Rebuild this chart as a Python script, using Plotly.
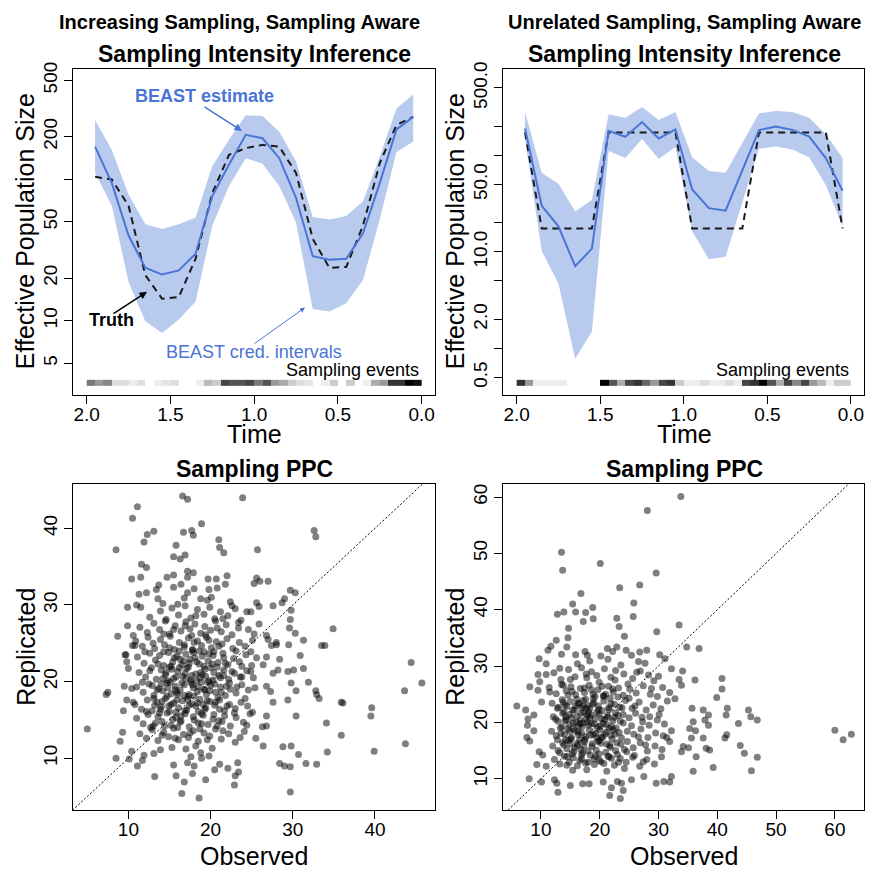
import math
import plotly.graph_objects as go

W, H = 880, 871
FONT = "Liberation Sans, Arial, sans-serif"
BLUE = "#4a74d6"
FILL = "#b8caed"

def px(x):
    return x / W

def py(y):
    return 1 - y / H

# ---------------- data ----------------
times = [1.95, 1.85, 1.75, 1.65, 1.55, 1.45, 1.35, 1.25, 1.15, 1.05,
         0.95, 0.85, 0.75, 0.65, 0.55, 0.45, 0.35, 0.25, 0.15, 0.05]

est_a = [170, 94, 40, 23.7, 21.2, 22.7, 29.7, 76, 127, 206, 195, 141, 74, 28.6, 27, 27.4, 41.5, 94, 225, 276]
hi_a = [262, 161, 78, 48, 44.5, 48, 53.7, 124, 190, 284, 280, 217, 134, 54, 52, 55, 70, 145, 316, 398]
lo_a = [111, 65, 18.8, 9.9, 8.2, 10.2, 13.6, 47, 89.5, 141, 129, 89.5, 49.5, 12.1, 11.6, 13.3, 19.4, 52, 156, 185]
truth_a = [104, 99.6, 65, 21, 14.3, 14.7, 27.4, 80, 149, 166, 175, 170, 111, 37.9, 23.6, 24, 47, 130, 242, 276]

est_b = [190, 30, 18.4, 7.1, 10.8, 180, 156, 222, 150, 186, 44.4, 28.4, 26.7, 70, 183, 199, 184, 157, 94, 43]
hi_b = [282, 66, 51, 26.2, 34.6, 267, 246, 317, 233, 282, 96, 69, 66, 135, 273, 288, 282, 246, 166, 94]
lo_b = [148, 10.2, 4.7, 0.78, 1.49, 111, 94, 148, 92, 122, 16.4, 8.4, 8.9, 32, 117, 124, 115, 96, 49, 18.4]
truth_b = [173, 17.5, 17.5, 17.5, 17.5, 173, 173, 173, 173, 173, 17.5, 17.5, 17.5, 17.5, 173, 173, 173, 173, 173, 17.5]

# sampling-event intensity per 0.05 time bin, read left (t=2.0) to right (t=0.0)
events_a = [0.53, 0.40, 0.47, 0.13, 0.13, 0.07, 0.13, 0.0, 0.07, 0.10,
            0.13, 0.0, 0.0, 0.07, 0.27, 0.20, 0.73, 0.67, 0.67, 0.73,
            0.53, 0.67, 0.40, 0.33, 0.20, 0.13, 0.10, 0.0, 0.07, 0.20,
            0.0, 0.20, 0.0, 0.07, 0.33, 0.40, 0.80, 0.80, 1.0, 0.93]
events_b = [0.80, 0.40, 0.07, 0.07, 0.07, 0.07, 0.0, 0.0, 0.0, 0.0,
            1.0, 0.67, 0.33, 0.73, 0.80, 0.60, 0.40, 0.73, 0.80, 0.20,
            0.07, 0.07, 0.13, 0.07, 0.07, 0.13, 0.07, 0.73, 0.80, 1.0,
            0.67, 0.33, 0.73, 0.47, 0.73, 0.40, 0.27, 0.07, 0.20, 0.20]
bin_width = 0.05

ppc_a = [
    (16.6,44.2),(17.2,43.8),(23.9,44.0),(11.1,42.8),(10.5,41.3),(18.9,40.6),(13.1,39.6),(12.3,39.2),(16.7,39.5),(17.7,39.7),
    (17.9,39.1),(32.6,39.7),(32.8,38.9),(21.0,38.5),(21.1,37.5),(21.6,36.8),(8.5,37.2),(11.9,38.2),(15.8,37.8),(25.7,37.2),
    (16.3,36.0),(15.5,36.3),(16.9,36.5),(11.6,35.3),(12.2,34.9),(17.2,34.4),(17.9,34.2),(17.2,33.6),(22.0,33.8),(10.4,33.4),
    (11.5,33.6),(14.7,33.6),(15.5,33.9),(19.7,33.4),(20.7,33.4),(25.6,33.5),(27.0,33.1),(25.3,32.8),(26.0,33.1),(13.7,32.6),
    (13.4,32.0),(15.5,32.3),(16.4,32.7),(18.0,32.1),(19.8,32.0),(20.8,32.2),(21.8,32.7),(29.7,31.9),(30.3,31.6),(9.9,29.7),
    (11.0,30.0),(11.5,29.7),(12.2,31.6),(11.3,31.4),(13.6,30.8),(16.8,30.9),(18.8,30.8),(22.4,30.4),(29.0,30.8),(28.7,30.3),
    (29.8,29.3),(24.4,29.1),(24.9,29.1),(25.6,30.3),(25.9,29.8),(27.6,29.9),(29.7,28.1),(29.6,27.0),(30.3,26.3),(34.9,26.9),
    (25.9,27.5),(26.8,26.0),(27.0,25.5),(27.4,24.7),(28.0,25.1),(29.5,24.8),(31.3,25.4),(33.5,24.7),(33.9,24.7),(9.9,27.3),
    (8.7,25.9),(10.6,26.0),(10.5,24.7),(9.6,23.5),(9.8,22.6),
    (44.4,22.5),(45.7,19.8),(43.6,18.8),(43.7,11.9),(39.6,16.6),(39.5,15.5),(39.9,10.9),(35.9,17.3),(36.1,17.2),(35.9,13.0),
    (34.1,14.6),(34.2,10.8),(32.8,18.8),(32.9,18.3),(33.2,17.8),(31.9,19.9),(31.3,21.7),(29.8,19.8),(30.4,18.8),(30.1,21.5),
    (30.9,23.4),(28.4,22.9),(29.4,21.3),(29.4,17.6),(30.4,15.5),(28.2,21.5),(27.6,21.1),(28.0,24.8),(26.8,23.2),(26.4,22.2),
    (27.3,18.7),(26.8,19.4),(27.6,17.3),(26.8,15.5),(28.4,9.3),(29.0,9.0),(29.7,8.9),(29.8,11.6),(28.8,11.5),(30.7,10.5),
    (31.6,9.3),(32.9,9.2),(29.7,5.6),(26.3,14.1),(26.8,14.2),(26.4,11.6),(25.5,12.6),(24.4,14.3),(23.6,12.7),(23.3,9.4),
    (23.0,7.7),(22.9,6.5),(23.4,8.2),(22.1,8.7),(21.1,9.2),(20.5,8.5),(19.8,10.3),(19.4,7.2),(18.6,4.8),(16.8,6.9),
    (16.5,5.4),(17.8,8.0),(18.0,9.0),(18.9,10.0),(18.8,10.7),(17.6,10.2),(17.2,9.4),(15.5,9.1),(15.8,7.7),(13.2,7.6),
    (13.1,10.6),(11.9,10.4),(11.7,9.7),(11.1,9.0),(10.4,10.9),(10.1,9.9),(8.5,10.0),(5.0,13.8),(7.3,18.3),(7.5,18.6),
    (9.0,12.2),(9.3,13.4),(9.4,16.2),(10.6,17.3),(10.4,19.1),(9.5,19.4),(9.8,17.6),(10.0,21.7),(9.7,23.5),(10.8,24.7),
    (12.6,28.4),(13.9,29.2),(14.6,28.1),(15.3,29.6),(16.1,28.7),(16.9,29.9),(17.6,28.3),(18.4,29.4),(19.2,28.8),(19.9,29.7),
    (20.5,28.2),(21.2,29.1),(22.1,28.6),(23.0,29.5),(23.7,28.0),(14.2,30.2),(19.6,30.6),(20.1,31.0),
    (11.4,27.1),(12.3,26.4),(13.1,27.6),(13.8,26.8),(14.5,27.9),(15.0,26.2),(15.7,27.3),(16.4,26.6),(17.0,27.8),(17.5,26.9),
    (18.1,27.5),(18.8,26.3),(19.3,27.2),(20.0,26.7),(20.6,27.9),(21.3,26.5),(21.9,27.4),(22.6,26.1),(23.4,27.0),(24.6,26.8),(25.3,26.2),
    (10.9,25.3),(11.7,24.6),(12.4,25.8),(13.2,24.3),(13.9,25.5),(14.4,24.8),(15.1,25.9),(15.6,24.2),(16.2,25.1),(16.8,24.5),
    (17.3,25.7),(17.8,24.1),(18.4,25.3),(18.9,24.7),(19.5,25.8),(20.1,24.4),(20.7,25.2),(21.4,24.9),(22.0,25.6),(22.7,24.3),
    (23.5,25.1),(24.2,24.6),(25.1,25.4),(24.9,23.9),
    (11.1,23.2),(11.9,22.4),(12.6,23.7),(13.3,22.8),(13.8,23.4),(14.3,22.1),(14.9,23.8),(15.4,22.6),(15.9,23.3),(16.5,22.2),
    (17.0,23.6),(17.5,22.9),(18.1,23.1),(18.6,22.3),(19.2,23.9),(19.7,22.7),(20.3,23.4),(20.9,22.5),(21.5,23.7),(22.1,22.2),
    (22.8,23.0),(23.5,22.6),(24.3,23.5),(25.0,22.1),(15.2,22.0),(17.9,23.8),
    (11.3,21.2),(12.1,20.6),(12.8,21.8),(13.4,20.3),(14.0,21.5),(14.5,20.9),(15.0,21.9),(15.5,20.4),(16.0,21.3),(16.6,20.7),
    (17.1,21.7),(17.6,20.2),(18.2,21.0),(18.7,20.5),(19.3,21.6),(19.8,20.1),(20.4,21.2),(21.0,20.8),(21.6,21.5),(22.2,20.3),
    (22.9,21.1),(23.6,20.6),(24.4,21.4),(25.2,20.5),(14.8,20.1),(16.9,21.1),(19.0,20.9),(20.0,21.8),
    (11.0,19.3),(11.8,18.6),(12.5,19.7),(13.1,18.2),(13.7,19.1),(14.2,18.8),(14.7,19.8),(15.2,18.4),(15.7,19.4),(16.3,18.9),
    (16.8,19.6),(17.3,18.1),(17.9,19.2),(18.4,18.7),(18.9,19.9),(19.5,18.3),(20.0,19.5),(20.6,18.6),(21.2,19.3),(21.8,18.2),
    (22.4,19.0),(23.1,18.5),(23.8,19.6),(24.6,18.9),(25.4,19.2),(16.0,18.3),(19.2,19.0),(17.6,19.9),
    (10.8,17.0),(11.6,16.4),(12.3,17.6),(12.9,16.2),(13.5,17.3),(14.0,16.7),(14.5,17.8),(15.0,16.1),(15.5,17.2),(16.1,16.6),
    (16.6,17.5),(17.1,16.3),(17.7,17.1),(18.2,16.8),(18.7,17.7),(19.3,16.4),(19.9,17.4),(20.5,16.9),(21.1,17.6),(21.7,16.2),
    (22.3,17.0),(23.0,16.5),(23.7,17.3),(24.5,16.8),(25.1,16.0),(13.2,16.9),(15.8,16.0),(18.5,16.1),
    (11.0,15.2),(11.8,14.5),(12.4,15.7),(13.0,14.2),(13.6,15.4),(14.1,14.8),(14.7,15.9),(15.2,14.3),(15.8,15.3),(16.3,14.7),
    (16.9,15.8),(17.4,14.1),(18.0,15.0),(18.5,14.6),(19.1,15.6),(19.7,14.4),(20.3,15.1),(21.0,14.9),(21.7,15.5),(22.4,14.2),
    (23.1,15.3),(24.0,14.7),(24.8,15.8),(12.7,14.0),
    (11.4,13.2),(12.2,12.6),(12.9,13.7),(13.6,12.3),(14.3,13.4),(14.9,12.8),(15.5,13.9),(16.1,12.4),(16.7,13.1),(17.3,12.7),
    (17.9,13.6),(18.5,12.2),(19.2,13.3),(19.9,12.9),(20.6,13.8),(21.3,12.5),(22.2,13.2),(23.0,12.1),(24.1,13.5),(15.3,11.4),
    (17.0,11.2),(18.2,11.6),(20.2,11.3),(13.9,11.1),
    (15.1,19.9),(16.7,22.7),(17.4,16.9),(18.3,20.1),(19.0,23.3),(19.6,17.5),(20.2,22.3),(21.1,16.4),(15.9,18.6),(17.8,24.2),
    (14.6,21.2),(16.4,15.5),(18.9,15.8),(20.5,19.7),(21.6,23.1),(14.1,17.4),(19.4,20.7),(17.0,20.4),(18.0,18.1),(16.2,24.0),
    (13.3,14.6),(13.8,15.9),(14.4,14.2),(14.9,16.8),(15.4,15.1),(15.9,17.6),(16.4,14.9),(16.9,16.2),(17.4,18.3),(17.9,15.4),
    (18.4,17.2),(18.9,14.5),(19.4,16.6),(19.9,18.8),(20.4,15.7),(20.9,17.9),(21.4,14.8),(21.9,19.4),(13.5,18.9),(14.2,20.4),
    (14.8,19.2),(15.3,21.6),(15.8,20.6),(16.3,22.9),(16.8,18.2),(17.3,21.9),(17.8,19.6),(18.3,22.6),(18.8,21.2),(19.3,18.9),
    (19.8,23.6),(20.3,20.2),(20.8,21.9),(21.3,18.6),(21.8,22.4),(22.3,19.8),(13.6,22.3),(14.3,23.9),(15.0,24.4),(15.6,23.1),
    (16.2,21.8),(16.8,24.8),(17.4,22.4),(18.0,25.1),(18.6,24.0),(19.2,22.0),(19.8,25.4),(20.4,23.9),(21.0,24.6),(21.6,20.8),
    (14.0,19.7),(14.7,18.1),(15.2,17.0),(15.7,18.9),(16.5,19.8),(17.2,17.7),(17.7,20.8),(18.5,19.3),(19.1,17.0),(19.7,19.9),
    (20.6,17.3),(21.2,20.5),(22.0,16.8),(22.6,21.3),(23.2,19.3),(23.8,22.0),(12.9,19.5),(12.6,21.4),(13.1,17.8),(13.9,16.4),
    (15.5,26.8),(16.9,27.3),(18.2,28.6),(19.4,26.1),(20.8,27.0),(14.3,26.2),(17.7,26.0),(21.5,28.2),(23.1,24.0),(23.8,20.6),
    (24.2,17.8),(22.9,15.9),(21.5,13.6),(19.6,12.4),(17.5,13.3),(15.7,12.6),(14.1,13.0),(16.0,14.0),(18.7,13.8),(20.8,14.2),
    (12.2,16.1),(11.7,19.9),(12.0,23.9),(24.9,21.3),(25.6,23.1),(23.4,27.7),(13.0,25.0),(22.6,29.9),(16.0,30.1),(17.2,31.6),
]

ppc_b = [
    (33.8,60.1),(28.1,57.6),(13.5,50.2),(13.7,47.0),(20.1,48.2),(29.6,46.5),(23.4,43.9),(26.8,44.4),(16.8,42.9),(15.4,41.0),
    (12.8,39.2),(13.9,39.6),(15.9,39.6),(17.6,39.5),(18.8,40.4),(18.9,38.4),(17.2,37.9),(22.9,38.5),(25.7,38.8),(25.8,41.2),
    (23.3,37.0),(24.2,35.3),(29.7,36.1),(33.5,37.3),(34.8,33.4),(36.9,33.1),(14.7,36.7),(14.6,35.0),(12.6,34.6),(11.7,33.5),
    (11.2,32.8),(9.7,31.3),(14.4,33.4),(13.5,32.1),(15.9,32.0),(17.5,32.6),(17.9,31.9),(20.2,31.8),(21.3,33.1),(22.2,32.6),
    (22.9,33.4),(24.5,32.8),(25.4,31.9),(26.8,32.5),(28.0,32.8),(26.6,30.8),(30.2,32.0),(31.1,31.3),(32.2,29.5),(34.1,29.1),
    (30.0,28.2),(33.5,27.6),(36.2,27.5),(33.9,26.6),(31.9,25.3),(32.8,24.2),(40.8,27.8),(40.8,25.9),(39.9,24.4),(41.7,22.5),
    (35.7,22.5),(37.6,22.2),(38.5,21.3),(41.5,21.3),(45.3,22.2),(45.7,21.0),(46.8,20.4),(43.6,19.8),(38.5,19.5),(37.9,20.4),
    (35.9,20.1),(35.3,18.9),(36.3,18.5),(35.6,17.2),(37.6,17.2),(38.1,15.4),(38.7,15.1),(41.6,17.8),(41.3,17.2),(43.9,15.9),
    (44.6,14.5),(46.8,13.8),(45.8,11.4),(39.3,12.0),(35.9,11.3),(36.4,13.9),(33.9,14.8),(34.2,15.7),(35.1,15.5),(60.0,18.6),
    (61.4,16.9),(62.8,17.9),(32.2,10.4),(30.9,9.5),(31.9,9.4),(29.6,9.2),(27.5,10.4),(25.4,9.8),(23.7,9.2),(23.0,9.5),
    (22.0,8.4),(21.7,7.0),(24.0,7.9),(23.5,6.5),(20.6,9.4),(18.2,9.1),(17.1,9.1),(15.0,8.8),(12.9,7.6),(12.7,9.2),
    (12.3,9.8),(8.0,10.0),(10.1,9.4),(7.4,22.2),(5.9,22.9),(7.8,20.6),(7.7,19.5),(7.6,17.3),(8.1,16.7),(8.8,18.5),
    (8.8,21.3),(8.1,26.3),(9.5,25.7),(9.8,27.2),(10.9,28.5),(9.5,28.5),(9.7,14.8),(9.3,12.5),(10.3,14.2),(10.9,12.2),
    (10.1,23.6),(13.8,26.6),(11.5,25.4),(10.9,30.4),
    (12.2,28.8),(13.4,27.6),(14.7,29.4),(15.8,28.1),(16.9,29.7),(17.8,27.9),(18.6,29.0),(19.5,28.3),(20.8,29.5),(21.9,28.0),
    (22.7,29.2),(24.1,28.6),(25.6,27.8),(26.9,29.1),(28.3,28.4),(29.2,27.4),(16.2,30.4),(18.3,30.9),(21.4,31.2),(23.6,30.2),(27.7,30.5),
    (11.4,26.2),(12.6,25.1),(13.5,26.7),(14.3,25.6),(15.1,26.3),(15.9,24.9),(16.7,26.0),(17.4,25.3),(18.2,26.6),(18.9,25.0),
    (19.7,25.8),(20.6,24.7),(21.5,26.4),(22.3,25.4),(23.2,26.1),(24.0,24.8),(25.1,25.9),(26.2,25.2),(27.4,26.5),(28.6,25.0),
    (29.8,24.6),(30.7,26.2),
    (11.9,23.4),(12.8,22.5),(13.6,24.0),(14.4,22.8),(15.0,23.7),(15.7,22.2),(16.3,23.3),(16.9,22.6),(17.6,24.1),(18.3,22.4),
    (19.0,23.5),(19.8,22.9),(20.7,23.8),(21.6,22.3),(22.5,23.2),(23.4,22.7),(24.4,23.9),(25.5,22.5),(26.7,23.6),(27.9,22.2),
    (29.1,23.1),(30.4,22.4),(31.5,23.8),(14.1,23.1),(17.2,22.9),
    (12.1,21.0),(12.9,20.2),(13.7,21.6),(14.3,20.5),(14.9,21.4),(15.5,19.9),(16.1,21.1),(16.7,20.4),(17.3,21.7),(17.9,20.0),
    (18.5,21.3),(19.2,20.7),(19.9,21.5),(20.6,19.8),(21.4,20.9),(22.2,20.3),(23.1,21.2),(24.0,19.9),(25.0,20.8),(26.1,21.6),
    (27.3,20.1),(28.5,21.0),(29.8,20.4),(31.0,19.7),(15.2,20.8),(18.1,21.9),
    (11.8,18.4),(12.6,17.6),(13.3,19.0),(14.0,17.9),(14.6,18.8),(15.2,17.3),(15.8,18.5),(16.4,17.8),(17.0,19.2),(17.6,17.5),
    (18.2,18.6),(18.9,17.9),(19.6,19.1),(20.3,17.4),(21.1,18.3),(21.9,17.7),(22.8,19.0),(23.7,17.2),(24.7,18.4),(25.8,17.9),
    (27.0,18.8),(28.2,17.3),(29.5,18.1),(30.8,17.6),(32.2,18.5),(16.9,18.1),(20.0,18.7),
    (12.0,15.8),(12.9,15.0),(13.7,16.4),(14.4,15.3),(15.0,16.2),(15.6,14.8),(16.2,15.9),(16.8,15.2),(17.4,16.6),(18.0,14.9),
    (18.7,15.7),(19.4,15.1),(20.2,16.3),(21.0,14.7),(21.8,15.6),(22.7,15.0),(23.6,16.1),(24.6,14.8),(25.7,15.5),(26.9,16.4),
    (28.1,14.9),(29.4,15.8),(30.6,15.2),(31.9,16.6),(19.9,16.8),(17.1,14.6),
    (12.3,13.4),(13.2,12.6),(14.0,14.0),(14.8,12.9),(15.5,13.7),(16.2,12.3),(16.9,13.5),(17.6,12.8),(18.4,14.2),(19.1,12.5),
    (19.9,13.3),(20.7,12.7),(21.6,13.9),(22.5,12.4),(23.5,13.6),(24.5,12.9),(25.6,13.8),(26.8,12.2),(28.0,13.4),(29.3,12.6),
    (30.5,13.9),(17.8,11.6),(21.2,11.3),(24.2,11.8),(15.4,11.5),
    (14.8,19.6),(15.9,22.9),(16.6,16.9),(17.7,20.6),(18.8,23.2),(19.5,17.2),(20.4,22.1),(21.2,16.1),(22.0,19.2),(23.0,14.3),
    (14.2,16.9),(16.4,19.3),(18.6,19.8),(20.8,20.5),(22.6,17.9),(15.3,14.4),(19.3,14.0),(13.9,21.9),(17.2,23.9),(21.8,24.3),
    (13.2,14.6),(13.9,16.0),(14.5,13.9),(15.1,17.1),(15.7,15.5),(16.3,18.3),(16.9,14.2),(17.5,17.0),(18.1,19.5),(18.7,16.2),
    (19.3,18.0),(19.9,14.4),(20.5,17.3),(21.1,19.6),(21.7,15.9),(22.3,18.7),(22.9,16.4),(23.5,20.2),(13.6,19.2),(14.2,21.0),
    (14.9,18.4),(15.4,22.2),(16.0,20.0),(16.5,23.4),(17.1,19.9),(17.7,22.5),(18.3,20.8),(18.9,24.2),(19.5,21.8),(20.1,19.3),
    (20.7,24.7),(21.3,21.2),(21.9,23.3),(22.5,20.9),(23.1,24.5),(23.8,22.6),(13.8,23.6),(14.6,24.8),(15.3,25.5),(16.1,24.1),
    (16.8,21.6),(17.4,26.1),(18.0,23.0),(18.6,25.8),(19.2,24.6),(19.8,22.3),(20.4,26.4),(21.0,25.0),(21.6,19.0),(22.2,25.9),
    (14.1,20.3),(14.7,16.8),(15.5,18.9),(16.2,16.3),(16.7,19.8),(17.3,15.8),(17.9,21.3),(18.5,17.7),(19.1,19.7),(19.7,16.6),
    (20.3,20.6),(20.9,17.9),(21.5,22.6),(22.1,17.0),(22.7,21.7),(23.3,18.2),(24.0,21.4),(24.7,16.6),(25.4,19.4),(26.0,22.9),
    (26.6,17.4),(27.2,20.9),(27.8,16.0),(28.4,19.5),(12.8,16.9),(12.5,20.6),(13.0,22.7),(13.4,18.0),(24.2,15.2),(25.0,24.3),
    (19.0,13.5),(21.4,14.0),(23.2,12.9),(16.6,13.2),(14.4,12.4),(18.0,12.9),(20.2,13.0),(22.0,13.6),(25.9,14.1),(27.4,13.0),
    (15.0,27.6),(17.7,28.6),(19.9,27.1),(22.6,27.5),(24.8,26.8),(13.2,29.6),(26.3,28.9),(28.8,26.0),(30.1,21.4),(31.4,17.3),
]
obs_a = [p[0] for p in ppc_a]
rep_a = [p[1] for p in ppc_a]
obs_b = [p[0] for p in ppc_b]
rep_b = [p[1] for p in ppc_b]

# ---------------- figure ----------------
fig = go.Figure()

def add_top(xa, ya, yov, est, hi, lo, truth, events):
    fig.add_trace(go.Scatter(x=times + times[::-1], y=hi + lo[::-1], fill="toself",
                             fillcolor=FILL, line=dict(width=0), mode="lines",
                             xaxis=xa, yaxis=ya, hoverinfo="skip"))
    fig.add_trace(go.Scatter(x=times, y=truth, mode="lines",
                             line=dict(color="#1a1a1a", width=2, dash="7px,5px"),
                             xaxis=xa, yaxis=ya))
    fig.add_trace(go.Scatter(x=times, y=est, mode="lines",
                             line=dict(color=BLUE, width=2),
                             xaxis=xa, yaxis=ya))
    n = len(events)
    centers = [2.0 - bin_width / 2 - bin_width * i for i in range(n)]
    fig.add_trace(go.Heatmap(x=centers[::-1], y=[0.027, 0.046], z=[events[::-1]],
                             colorscale=[[0, "white"], [1, "black"]], zmin=0, zmax=1,
                             showscale=False, xaxis=xa, yaxis=yov, hoverinfo="skip"))

add_top("x", "y", "y5", est_a, hi_a, lo_a, truth_a, events_a)
add_top("x2", "y2", "y6", est_b, hi_b, lo_b, truth_b, events_b)

def add_ppc(xa, ya, obs, rep):
    fig.add_trace(go.Scatter(x=obs, y=rep, mode="markers",
                             marker=dict(size=7, color="rgba(0,0,0,0.5)", line=dict(width=0)),
                             xaxis=xa, yaxis=ya))
    fig.add_trace(go.Scatter(x=[0, 100], y=[0, 100], mode="lines",
                             line=dict(color="black", width=1, dash="2px,2px"),
                             xaxis=xa, yaxis=ya))

add_ppc("x3", "y3", obs_a, rep_a)
add_ppc("x4", "y4", obs_b, rep_b)

tickfont = dict(family=FONT, size=19, color="black")
common = dict(showline=True, mirror=True, linecolor="black", linewidth=1,
              ticks="outside", ticklen=8, tickwidth=1, tickcolor="black",
              showgrid=False, zeroline=False, tickfont=tickfont)
xcommon = dict(common, ticklabelstandoff=-6)

L = (73.3, 435.0)
R = (503.3, 864.3)
TOP = (62.0, 391.0)
BOT = (480.7, 810.0)

time_ticks = [0.0, 0.5, 1.0, 1.5, 2.0]
time_text = ["0.0", "0.5", "1.0", "1.5", "2.0"]

fig.update_layout(
    xaxis=dict(domain=[px(L[0]), px(L[1])], anchor="y", range=[2.08, -0.08],
               tickvals=time_ticks, ticktext=time_text, **xcommon),
    yaxis=dict(domain=[py(TOP[1]), py(TOP[0])], anchor="x", type="log",
               range=[math.log10(2.99), math.log10(607)],
               tickvals=[5, 10, 20, 50, 100, 200, 500],
               ticktext=["5", "10", "20", "50", "", "200", "500"], tickangle=-90, **common),
    xaxis2=dict(domain=[px(R[0]), px(R[1])], anchor="y2", range=[2.08, -0.08],
                tickvals=time_ticks, ticktext=time_text, **xcommon),
    yaxis2=dict(domain=[py(TOP[1]), py(TOP[0])], anchor="x2", type="log",
                range=[-0.482, 2.901],
                tickvals=[0.5, 1, 2, 5, 10, 20, 50, 100, 200, 500],
                ticktext=["0.5", "", "2.0", "", "10.0", "", "50.0", "", "", "500.0"],
                tickangle=-90, **common),
    xaxis3=dict(domain=[px(L[0]), px(L[1])], anchor="y3", range=[3.3, 47.3],
                tickvals=[10, 20, 30, 40], **xcommon),
    yaxis3=dict(domain=[py(BOT[1]), py(BOT[0])], anchor="x3", range=[3.18, 45.8],
                tickvals=[10, 20, 30, 40], tickangle=-90, **common),
    xaxis4=dict(domain=[px(R[0]), px(R[1])], anchor="y4", range=[3.6, 65.0],
                tickvals=[10, 20, 30, 40, 50, 60], **xcommon),
    yaxis4=dict(domain=[py(BOT[1]), py(BOT[0])], anchor="x4", range=[4.35, 62.35],
                tickvals=[10, 20, 30, 40, 50, 60], tickangle=-90, **common),
    yaxis5=dict(overlaying="y", anchor="x", range=[0, 1], visible=False),
    yaxis6=dict(overlaying="y2", anchor="x2", range=[0, 1], visible=False),
    width=W, height=H, margin=dict(l=0, r=0, t=0, b=0),
    paper_bgcolor="white", plot_bgcolor="white", showlegend=False,
    font=dict(family=FONT, color="black"),
)

def text(x, y, s, size, bold=False, color="black", angle=0, xanchor="center"):
    fig.add_annotation(x=px(x), y=py(y), xref="paper", yref="paper",
                       text=f"<b>{s}</b>" if bold else s, showarrow=False,
                       font=dict(family=FONT, size=size, color=color),
                       textangle=angle, xanchor=xanchor, yanchor="middle")

def arrow(tail, head, color, width):
    fig.add_annotation(x=px(head[0]), y=py(head[1]), xref="paper", yref="paper",
                       ax=tail[0] - head[0], ay=tail[1] - head[1], text="",
                       showarrow=True, arrowhead=2, arrowsize=1, arrowwidth=width,
                       arrowcolor=color, standoff=0, startstandoff=0)

text(240, 15, "Increasing Sampling, Sampling Aware", 20, bold=True)
text(684, 15, "Unrelated Sampling, Sampling Aware", 20, bold=True)
for cx in (254, 684):
    text(cx, 47, "Sampling Intensity Inference", 23, bold=True)
    text(cx, 466, "Sampling PPC", 23, bold=True)
    text(cx, 430, "Time", 25)
    text(cx, 856, "Observed", 25)
text(25, 226, "Effective Population Size", 25, angle=-90)
text(455, 226, "Effective Population Size", 25, angle=-90)
text(26, 645, "Replicated", 25, angle=-90)
text(455, 645, "Replicated", 25, angle=-90)
text(421, 366, "Sampling events", 18, xanchor="right")
text(851, 366, "Sampling events", 18, xanchor="right")

text(204, 90, "BEAST estimate", 18, bold=True, color=BLUE)
text(112, 316, "Truth", 18, bold=True)
text(254, 348, "BEAST cred. intervals", 18, color=BLUE)
arrow((203, 100), (242, 125), BLUE, 1.5)
arrow((112, 310), (147, 287), "black", 1.5)
arrow((253, 340), (305, 303), BLUE, 1)

fig.write_html("out.html")
